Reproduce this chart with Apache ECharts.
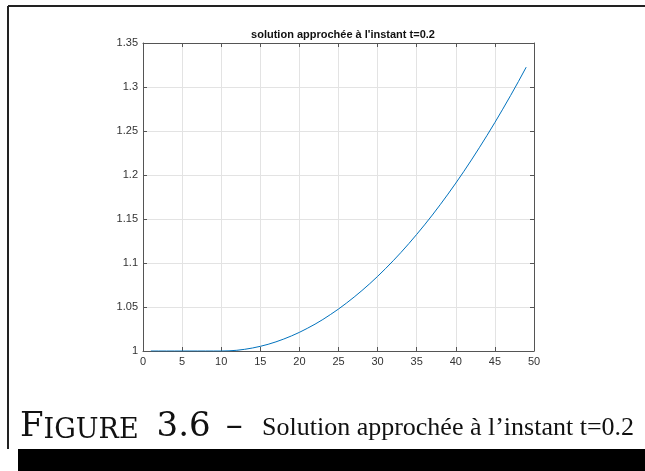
<!DOCTYPE html>
<html>
<head>
<meta charset="utf-8">
<script src="https://cdn.jsdelivr.net/npm/echarts@6/dist/echarts.min.js"></script>
<style>
  html, body { margin: 0; padding: 0; background: #fff; }
  #chart { width: 645px; height: 471px; }
</style>
</head>
<body>
<div id="chart"></div>
<script>
// grid points (x) and approximate solution values
const xValues = [1, 2, 3, 4, 5, 6, 7, 8, 9, 10,
  11, 12, 13, 14, 15, 16, 17, 18, 19, 20,
  21, 22, 23, 24, 25, 26, 27, 28, 29, 30,
  31, 32, 33, 34, 35, 36, 37, 38, 39, 40,
  41, 42, 43, 44, 45, 46, 47, 48, 49];
const yValues = [1, 1, 1, 1, 1, 1, 1, 1, 1, 1,
  1.0002, 1.0008, 1.0019, 1.0034, 1.0053, 1.0076, 1.0104, 1.0136, 1.0172, 1.0212,
  1.0257, 1.0305, 1.0358, 1.0416, 1.0477, 1.0543, 1.0613, 1.0687, 1.0765, 1.0848,
  1.0935, 1.1026, 1.1121, 1.1221, 1.1325, 1.1433, 1.1545, 1.1662, 1.1783, 1.1908,
  1.2037, 1.2171, 1.2309, 1.2451, 1.2597, 1.2748, 1.2902, 1.3061, 1.3225];
const xTicks = [0, 5, 10, 15, 20, 25, 30, 35, 40, 45, 50];
const yTicks = [1, 1.05, 1.1, 1.15, 1.2, 1.25, 1.3, 1.35];

const plotTitle = "solution approchée à l'instant t=0.2";
const captionText = "Solution approchée à l’instant t=0.2";

const chart = echarts.init(document.getElementById("chart"), null, { renderer: "canvas" });

const axisColor = "#555";
const gridColor = "#e3e3e3";
const labelFont = { color: "#333", fontSize: 11, fontFamily: "Liberation Sans, Arial, sans-serif" };

const option = {
  backgroundColor: "#fff",
  animation: false,
  title: {
    text: plotTitle,
    left: 338,
    textAlign: "center",
    top: 24,
    textStyle: { fontSize: 11, fontWeight: "bold", color: "#111", fontFamily: "Liberation Sans, Arial, sans-serif" }
  },
  grid: { left: 143, right: 111, top: 43, bottom: 120, containLabel: false },
  xAxis: [
    {
      type: "value",
      min: xTicks[0],
      max: xTicks[xTicks.length - 1],
      interval: 5,
      axisLine: { lineStyle: { color: axisColor, width: 1 } },
      axisTick: { inside: true, length: 4, lineStyle: { color: axisColor } },
      axisLabel: Object.assign({ margin: 5 }, labelFont),
      splitLine: { show: true, lineStyle: { color: gridColor, width: 1 } }
    },
    {
      type: "value",
      position: "top",
      min: xTicks[0],
      max: xTicks[xTicks.length - 1],
      interval: 5,
      axisLine: { show: true, onZero: false, lineStyle: { color: axisColor, width: 1 } },
      axisTick: { show: true, inside: true, length: 4, lineStyle: { color: axisColor } },
      axisLabel: { show: false },
      splitLine: { show: false }
    }
  ],
  yAxis: [
    {
      type: "value",
      min: yTicks[0],
      max: yTicks[yTicks.length - 1],
      interval: 0.05,
      axisLine: { show: true, onZero: false, lineStyle: { color: axisColor, width: 1 } },
      axisTick: { show: true, inside: true, length: 4, lineStyle: { color: axisColor } },
      axisLabel: Object.assign({ margin: 5 }, labelFont),
      splitLine: { show: true, lineStyle: { color: gridColor, width: 1 } }
    },
    {
      type: "value",
      position: "right",
      min: yTicks[0],
      max: yTicks[yTicks.length - 1],
      interval: 0.05,
      axisLine: { show: true, onZero: false, lineStyle: { color: axisColor, width: 1 } },
      axisTick: { show: true, inside: true, length: 4, lineStyle: { color: axisColor } },
      axisLabel: { show: false },
      splitLine: { show: false }
    }
  ],
  series: [
    {
      type: "line",
      data: xValues.map((x, i) => [x, yValues[i]]),
      showSymbol: false,
      lineStyle: { color: "#0072BD", width: 1 },
      itemStyle: { color: "#0072BD" }
    }
  ],
  graphic: [
    // shadow-box frame around the figure
    { type: "line", shape: { x1: 8, y1: 6, x2: 645, y2: 6 }, style: { stroke: "#222", lineWidth: 2 } },
    { type: "line", shape: { x1: 8, y1: 6, x2: 8, y2: 449 }, style: { stroke: "#222", lineWidth: 2 } },
    { type: "rect", shape: { x: 18, y: 449, width: 627, height: 22 }, style: { fill: "#000" } },
    // caption label (small caps, larger)
    {
      type: "text",
      style: {
        x: 20,
        y: 444,
        verticalAlign: "bottom",
        text: "{lab|F}{sc|IGURE}{sp|}{lab|3.6}{sp2|}{lab|–}",
        rich: {
          lab: { fontSize: 34, fontFamily: "DejaVu Serif, serif", fill: "#111", verticalAlign: "bottom" },
          sc: { fontSize: 27, fontFamily: "DejaVu Serif, serif", fill: "#111", verticalAlign: "bottom" },
          sp: { width: 18 },
          sp2: { width: 15 }
        }
      }
    },
    // caption text
    {
      type: "text",
      style: {
        x: 262,
        y: 428,
        verticalAlign: "middle",
        text: captionText,
        fontSize: 26,
        fontFamily: "Liberation Serif, serif",
        fill: "#111"
      }
    }
  ]
};

chart.setOption(option);
</script>
</body>
</html>
